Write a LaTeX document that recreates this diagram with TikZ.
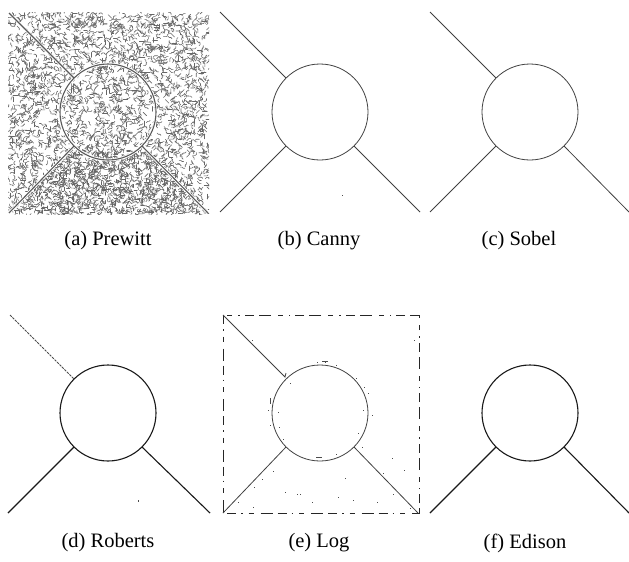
\documentclass[tikz,border=0pt]{standalone}
\usepackage{fontspec}
\setmainfont{Liberation Serif}
\usetikzlibrary{calc}
\begin{document}
\begin{tikzpicture}[x=1pt,y=-1pt,
  edge/.style={line width=0.8pt,draw=black!75},
  darkedge/.style={line width=1.1pt,draw=black!90},
  pedge/.style={line width=1.1pt,draw=black!65},
  gap/.style={line width=2.8pt,draw=white},
  noise/.style={line width=0.6pt,draw=black!60,line cap=round,line join=round},
  speck/.style={fill=black!70},
  captext/.style={font=\fontsize{20.5}{24}\selectfont,anchor=center},
  logbox/.style={line width=0.9pt,draw=black!85,dash pattern=on 9pt off 5pt on 1.5pt off 6pt on 5pt off 7pt on 12pt off 5pt}]
\useasboundingbox (0,0) rectangle (629,562);
\def\R{48}
% centres
\coordinate (ca) at (108,112);
\coordinate (cb) at (320,112);
\coordinate (cc) at (530,112);
\coordinate (cd) at (108,413);
\coordinate (ce) at (320,413);
\coordinate (cf) at (530,413);
% ---------- (a) Prewitt ----------
\pgfmathsetseed{24681}
\begin{scope}
\clip (8,12) rectangle (209,214);
\foreach \i in {1,...,3200}{
  \pgfmathsetmacro\px{8+201*rnd}
  \pgfmathsetmacro\py{12+202*rnd}
  \pgfmathsetmacro\aa{45*random(0,7)}
  \pgfmathsetmacro\ab{\aa+45*random(-1,1)}
  \pgfmathsetmacro\ac{\ab+45*random(-1,1)}
  \draw[noise] (\px,\py) -- ++(\aa:1.6) -- ++(\ab:1.6) -- ++(\ac:1.6);
}
\foreach \i in {1,...,800}{
  \pgfmathsetmacro\py{150+64*rnd}
  \pgfmathsetmacro\px{108+(2*rnd-1)*(\py-112)}
  \pgfmathsetmacro\aa{45*random(0,7)}
  \pgfmathsetmacro\ab{\aa+45*random(-1,1)}
  \draw[noise] (\px,\py) -- ++(\aa:1.6) -- ++(\ab:1.6);
}
\end{scope}
\draw[gap] (ca) circle (\R);
\draw[gap] (9,13) -- ($(ca)+(-34,-34)$);
\draw[gap] ($(ca)+(-34,34)$) -- (9,213);
\draw[gap] ($(ca)+(34,34)$) -- (208,213);
\draw[pedge] (ca) circle (\R);
\draw[pedge] (9,13) -- ($(ca)+(-34,-34)$);
\draw[pedge] ($(ca)+(-34,34)$) -- (9,213);
\draw[pedge] ($(ca)+(34,34)$) -- (208,213);
% ---------- (b) Canny ----------
\draw[edge] (cb) circle (\R);
\draw[edge] (220,12) -- ($(cb)+(-34,-34)$);
\draw[edge] ($(cb)+(-34,34)$) -- (220,212);
\draw[edge] ($(cb)+(34,34)$) -- (420,212);
\fill[speck] (342,195) rectangle ++(1,1);
% ---------- (c) Sobel ----------
\draw[edge] (cc) circle (\R);
\draw[edge] (430,12) -- ($(cc)+(-34,-34)$);
\draw[edge] ($(cc)+(-34,34)$) -- (430,212);
\draw[edge] ($(cc)+(34,34)$) -- (629,212);
% ---------- (d) Roberts ----------
\draw[darkedge] (cd) circle (\R);
\draw[edge,draw=black!70,dash pattern=on 2.5pt off 1pt] (10,315) -- ($(cd)+(-34,-34)$);
\draw[darkedge] ($(cd)+(-34,34)$) -- (8,513);
\draw[darkedge] ($(cd)+(34,34)$) -- (210,513);
\fill[speck] (138,500) rectangle ++(1,1.5);
% ---------- (e) Log ----------
\draw[logbox] (223,315) rectangle (419,513);
\draw[edge] (ce) circle (\R);
\draw[edge] (223,315) -- ($(ce)+(-35,-36)$) -- ++(1,-4);
\draw[edge] ($(ce)+(-34,34)$) -- (223,513);
\draw[edge] ($(ce)+(34,34)$) -- (418,513);
\foreach \p in {(317,362),(325,362),(336,365),(290,383),(356,378),(364,387),(368,393),
  (270,400),(268,410),(278,412),(363,410),(372,415),(270,425),(279,427),(283,439),
  (358,433),(362,447),(336,454),(252,340),(414,340),(392,458),(273,471),(262,479),
  (285,492),(297,494),(338,497),(383,473),(393,494),(254,487),(253,507),(312,502),
  (353,500),(377,502),(410,508),(238,502),(300,494),(345,478),(404,470)}
  \fill[speck] \p rectangle ++(1.3,1.3);
\fill[speck] (270,398) rectangle ++(1.3,6);
\fill[speck] (316,457) rectangle ++(6,1.3);
\fill[speck] (322,361) rectangle ++(6,1.3);
% ---------- (f) Edison ----------
\draw[darkedge] (cf) circle (\R);
\draw[darkedge] ($(cf)+(-34,34)$) -- (430,513);
\draw[darkedge] ($(cf)+(34,34)$) -- (629,513);
% ---------- captions ----------
\node[captext] (la) at (108,241) {(a) Prewitt};
\node[captext] (lb) at (319,241) {(b) Canny};
\node[captext] (lc) at (519,241) {(c) Sobel};
\node[captext] (ld) at (108,543) {(d) Roberts};
\node[captext] (le) at (319,543) {(e) Log};
\node[captext] (lf) at (525,543) {(f) Edison};
\end{tikzpicture}
\end{document}
